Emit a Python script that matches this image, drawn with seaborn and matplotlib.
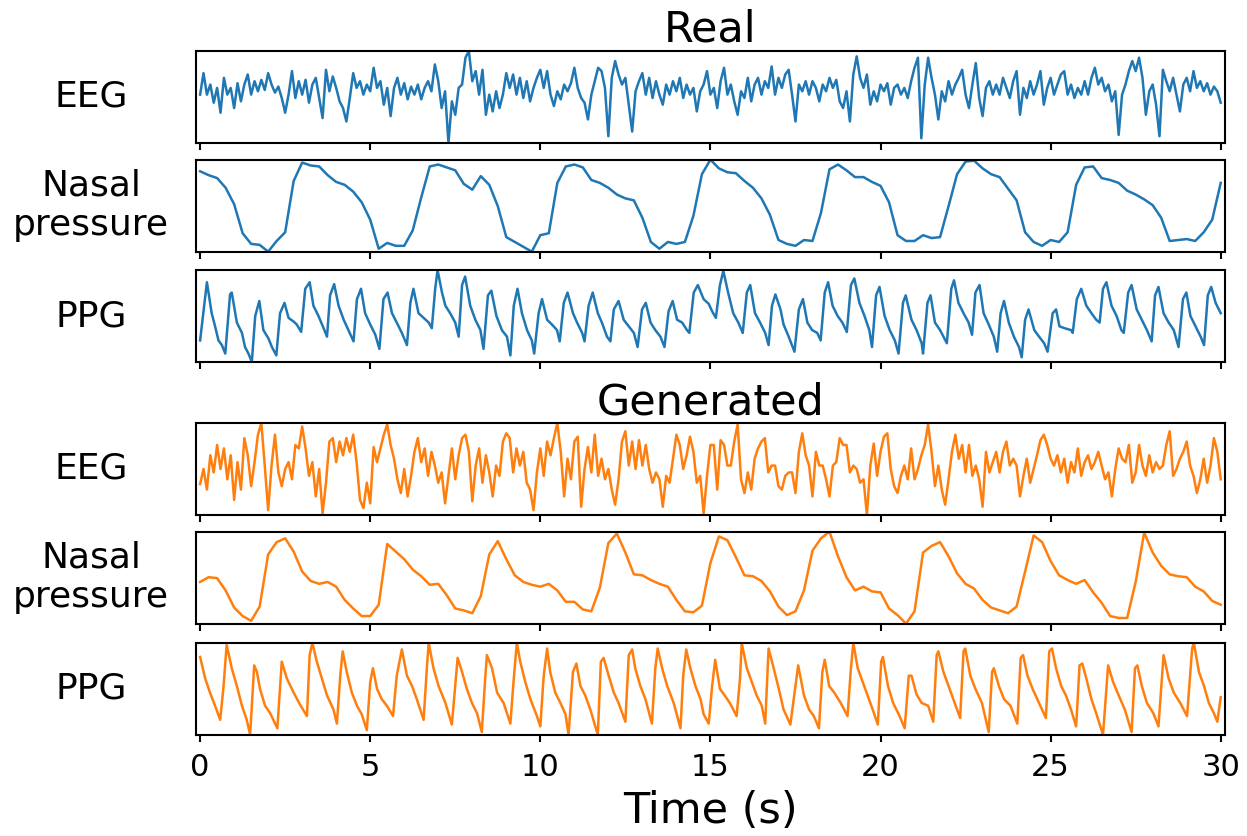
import numpy as np
import seaborn as sns
import matplotlib
matplotlib.use('Agg')
import matplotlib.pyplot as plt

#######################################################
### DATA (arbitrary units)
#######################################################
# EEG, sampled every 0.1 s from 0 to 30 s
eeg_time = np.linspace(0, 30, 301)
eeg_real = [
    -5, 27, -5, 10, -17, 5, -32, 20, -5, 5,
    -25, 12, -15, 10, 25, -5, 15, 0, 17, 2,
    27, 10, -2, 7, -10, -32, -5, 30, -10, 15,
    -5, 17, -17, 10, 20, -10, -40, 32, 0, 22,
    5, -15, -25, -45, -10, 27, 5, 15, -5, 10,
    0, 35, 5, 15, -20, 5, -37, 5, 20, -5,
    12, -12, 7, -5, 10, -12, 5, 15, 0, 40,
    15, -25, 0, -77, -15, -35, 5, 10, 50, 60,
    15, 30, -5, 32, -35, -5, -30, 0, -25, -5,
    27, 5, 25, -5, 20, -10, 15, -15, 5, 20,
    32, 5, 30, -5, -22, 0, -12, 10, 0, 12,
    35, 5, -10, -17, -42, -5, 15, 35, 30, 5,
    -67, 20, 45, 25, 10, 20, -20, -60, 0, 15,
    27, -5, 20, -10, 15, -5, -20, 10, -5, 15,
    0, 20, -10, 10, -5, 5, -30, 0, 10, 30,
    -5,
    5, -25, 15, 35, -5, 10, -15, -35, 0, -10,
    20, -15, 10, 20, -5, 15, 5, 37, -5, 20,
    5, 25, 32, -5, -45, 10, 0, 15, -5, 15,
    5, -15, 10, 0, 20, 5, 17, -15, -25, 0,
    -45, 25, 52, 20, 5, 25, -20, 0, -15, 10,
    0, 12, -20, 5, 10, -5, 5, -10, 15, 35,
    50, -70, 10, 50, 20, -5, -42, 0, -15, 15,
    -5, 10, 20, 32, -5, -25, 10, 42, -10, -37,
    5, 15, -5, 10, -5, 20, 5, -10, 15, 30,
    -35, 5, -10, 15, -5, 10, 30, -20, 5, 20,
    -5, 10, 25, 30, -5, 10, -10, 5, -5, 15,
    -5, 20, 35, 10, 20, 0, 10, -15, 0, -65,
    -5, 10, 30, 45, 30, 50, 20, -35, 0, 10,
    -20, -67, 32, 15, 0, 20, -5, -30, 10, 20,
    0, 30, 5, 15, 0, 12, -5, 7, 0, -17,
]
eeg_gen = [
    -27, -5, -35, 15, -10, 30, -5, 25, -20, 15,
    -50, 5, -35, 40, 15, -30, 5, 45, 62, 0,
    -65, 0, 45, -10, -30, -5, 5, -20, 30, 25,
    57, 25, -15, 5, -45, -5, -70, -25, 35, 40,
    5, 35, 15, 40, 20, 45, 5, -50, -62, -25,
    -55, 27, 5, 25, 45, 60, 30, 10, -20, -40,
    -5, -45, -15, 20, 40, 5, 25, -15, 20, 0,
    -25, -10, -55, -15, 25, -20, 15, 40, 45, 20,
    -52, 0, 25, -25, 15, -10, -45, 0, -15, 35,
    47, 40, -10, 25, 0, 20, -25, -35, -65, -10,
    25, -15, 35, 15, 40, 62, 20, -45, 10, -20,
    35, 42, -60, -5, 27, -10, 45, -15, 10, -20,
    -5, -35, -57, -20, 35, 50, 0, 35, -5, 37,
    0, 30, -5, -25, -10, -20, -60, -15, -25, 10,
    45, 30, -5, 15, 42, 20, -25, -15, -70, -15,
    30,
    30, -35, 37, 30, 0, 0, 35, 60, -20, -40,
    -10, -35, 10, 25, 35, 40, -10, 0, 0, -30,
    -35, -15, -10, -10, -40, 20, 47, 15, 0, -45,
    20, 0, 0, -20, -45, 0, 5, 40, 30, 30,
    -10, 0, -5, -25, -20, -72, 0, 32, -15, 20,
    42, 47, -5, -30, -40, -15, 0, -20, 25, -20,
    -5, 15, 30, 60, 20, -30, 0, -35, -57, -20,
    20, 45, 10, 30, -10, 30, -15, 0, -20, -60,
    20, -10, 5, 20, -10, 20, 35, 0, 10, 0,
    -45, -15, 10, -25, -5, 15, 37, 45, 30, 10,
    0, 15, -10, 10, -25, 5, -10, 25, -15, 5,
    15, -5, 5, 20, 0, -20, -10, -45, -5, 25,
    10, 5, 30, -25, -10, 30, 0, -15, 15, -10,
    5, -5, 0, 30, 50, -15, -5, 10, 20, 35,
    0, -15, -40, -20, 10, -25, 0, 40, 20, -20,
]

# Nasal pressure, sampled every 0.25 s
nasal_time = np.linspace(0, 30, 121)
nasal_real = [
    85, 81, 78, 68, 51, 21, 10, 9, 2, 13,
    22, 75, 94, 91, 90, 81, 74, 71, 64, 53,
    35, 5, 11, 8, 8, 24, 58, 90, 92, 89,
    86, 72, 66, 80, 71, 49, 17, 12, 7, 2,
    19, 21, 73, 90, 92, 89, 76, 73, 68, 61,
    57, 55, 37, 12, 5, 12, 10, 12, 39, 82,
    97,
    88, 84, 83, 75, 68, 57, 40, 14, 10, 8,
    14, 13, 42, 87, 92, 86, 79, 79, 74, 70,
    53, 19, 13, 13, 19, 16, 17, 49, 82, 95,
    96, 88, 82, 79, 67, 55, 22, 12, 8, 14,
    12, 22, 71, 89, 90, 78, 76, 73, 65, 61,
    56, 50, 37, 13, 14, 15, 13, 22, 35, 73,
]
nasal_gen = [
    45, 50, 49, 36, 18, 9, 4, 19, 74, 87,
    91, 77, 56, 46, 43, 45, 40, 26, 17, 9,
    9, 21, 85, 77, 69, 58, 51, 42, 43, 31,
    17, 15, 12, 30, 74, 88, 69, 52, 45, 42,
    40, 43, 36, 24, 24, 16, 14, 39, 86, 96,
    76, 53, 52, 47, 43, 40, 26, 14, 13, 20,
    65,
    93, 89, 71, 52, 51, 46, 35, 19, 10, 14,
    36, 78, 91, 98, 72, 50, 36, 40, 35, 34,
    17, 10, 1, 14, 76, 83, 87, 72, 54, 43,
    38, 26, 18, 15, 12, 19, 56, 94, 87, 67,
    52, 47, 43, 47, 34, 23, 9, 7, 7, 45,
    97, 76, 62, 53, 51, 50, 40, 35, 25, 21,
]

# PPG, key points of each beat (foot, upstroke, peak, descent)
ppg_real_time = [
    0.00, 0.20, 0.34, 0.44, 0.54, 0.64,
    0.74, 0.88, 0.93, 1.08, 1.23, 1.32, 1.42,
    1.52, 1.62, 1.74, 1.86, 2.01, 2.11,
    2.24, 2.35, 2.48, 2.60, 2.75, 2.84,
    2.97, 3.09, 3.22, 3.33, 3.48, 3.63,
    3.73, 3.82, 3.94, 4.07, 4.22, 4.36,
    4.51, 4.61, 4.73, 4.85, 5.00, 5.15,
    5.27, 5.39, 5.51, 5.64, 5.78, 5.93,
    6.08, 6.18, 6.27, 6.42, 6.57, 6.72,
    6.81, 6.91, 6.98, 7.11, 7.21, 7.35, 7.50,
    7.60, 7.70, 7.79, 7.94, 8.09, 8.24,
    8.33, 8.46, 8.56, 8.71, 8.87, 9.02,
    9.12, 9.22, 9.33, 9.46, 9.61, 9.75,
    9.82, 9.95, 10.05, 10.20, 10.34, 10.49,
    10.57, 10.69, 10.80, 10.96, 11.08, 11.23,
    11.30, 11.42, 11.54, 11.69, 11.81, 11.96,
    12.06, 12.16, 12.30, 12.45, 12.60, 12.75,
    12.86, 12.99, 13.10, 13.24, 13.38, 13.53,
    13.65, 13.77, 13.89, 14.02, 14.17, 14.31,
    14.38, 14.51, 14.63, 14.80, 14.95, 15.05,
    15.16, 15.28, 15.38, 15.52, 15.67, 15.82,
    15.95, 16.07, 16.17, 16.31, 16.46, 16.61,
    16.71, 16.81, 16.91, 17.06, 17.15, 17.30,
    17.47, 17.60, 17.72, 17.85, 17.99, 18.14,
    18.24, 18.36, 18.46, 18.59, 18.74, 18.88,
    19.01, 19.13, 19.23, 19.38, 19.53, 19.67,
    19.75, 19.87, 19.97, 20.12, 20.27, 20.42,
    20.53, 20.66, 20.74, 20.91, 21.06, 21.21,
    21.25, 21.38, 21.47, 21.60, 21.75, 21.85,
    21.95, 22.08, 22.16, 22.29, 22.44, 22.59,
    22.69, 22.79, 22.91, 23.03, 23.18, 23.33,
    23.43, 23.53, 23.63, 23.77, 23.92, 24.07,
    24.15, 24.25, 24.35, 24.52, 24.66, 24.81,
    24.91, 25.06, 25.16, 25.26, 25.41, 25.60,
    25.65, 25.77, 25.90, 26.05, 26.20, 26.34,
    26.44, 26.54, 26.64, 26.79, 26.94, 27.08,
    27.15, 27.28, 27.38, 27.53, 27.68, 27.83,
    27.97, 28.07, 28.17, 28.32, 28.47, 28.62,
    28.76, 28.89, 28.99, 29.11, 29.26, 29.41,
    29.51, 29.62, 29.72, 29.85, 30.00,
]
ppg_real = [
    24, 86, 53, 39, 24, 19,
    10, 73, 75, 43, 32, 17, 10,
    1, 50, 66, 35, 26, 17,
    8, 53, 64, 48, 44, 41,
    33, 79, 86, 61, 50, 37,
    28, 72, 84, 61, 46, 35,
    23, 68, 79, 53, 41, 30,
    15, 68, 75, 53, 43, 32,
    19, 64, 79, 53, 48, 43,
    37, 79, 99, 75, 61, 53, 43,
    28, 83, 92, 61, 46, 35,
    15, 72, 77, 50, 35, 28,
    8, 61, 79, 53, 35, 24,
    10, 53, 68, 46, 41, 35,
    23, 64, 75, 53, 43, 32,
    23, 61, 75, 53, 43, 28,
    23, 57, 66, 46, 39, 32,
    17, 57, 64, 43, 35, 28,
    17, 55, 66, 46, 43, 35,
    32, 75, 83, 68, 63, 55,
    48, 83, 98, 75, 53, 43,
    32, 75, 83, 53, 43, 32,
    19, 61, 73, 57, 41, 28,
    12, 57, 68, 43, 35, 32,
    24, 75, 86, 61, 50, 43,
    33, 83, 90, 64, 50, 35,
    17, 72, 81, 50, 35, 24,
    10, 64, 72, 46, 35, 21,
    10, 64, 72, 43, 35, 28,
    21, 79, 88, 64, 53, 43,
    30, 75, 83, 53, 41, 28,
    12, 53, 66, 43, 28, 17,
    6, 46, 57, 35, 28, 21,
    12, 53, 57, 39, 37, 35,
    32, 68, 79, 61, 53, 46,
    43, 79, 86, 61, 50, 35,
    32, 75, 83, 57, 46, 35,
    23, 72, 81, 53, 43, 35,
    17, 68, 75, 50, 39, 28,
    19, 72, 81, 64, 53,
]
ppg_gen_time = [
    0.00, 0.15, 0.29, 0.44,
    0.59, 0.69, 0.78, 0.93, 1.08, 1.23, 1.37,
    1.47, 1.59, 1.67, 1.76, 1.91, 2.06,
    2.27, 2.40, 2.55, 2.75, 2.94,
    3.14, 3.22, 3.30, 3.43, 3.58, 3.73, 3.92,
    4.02, 4.12, 4.19, 4.31, 4.46, 4.61, 4.75,
    4.90, 5.00, 5.08, 5.20, 5.34, 5.49,
    5.67, 5.78, 5.93, 6.08, 6.23, 6.37,
    6.57, 6.67, 6.72, 6.86, 7.01, 7.21,
    7.40, 7.50, 7.57, 7.70, 7.84, 7.99, 8.14,
    8.28, 8.38, 8.43, 8.58, 8.73, 8.92,
    9.12, 9.22, 9.31, 9.41, 9.56, 9.71, 9.90,
    10.00, 10.10, 10.20, 10.29, 10.44, 10.59, 10.74,
    10.83, 10.96, 11.06, 11.18, 11.32, 11.47,
    11.69, 11.78, 11.86, 12.01, 12.16, 12.30,
    12.50, 12.60, 12.70, 12.79, 12.94, 13.09,
    13.28, 13.38, 13.45, 13.58, 13.73, 13.92,
    14.12, 14.20, 14.29, 14.41, 14.56, 14.71, 14.80,
    14.95, 15.05, 15.14, 15.28, 15.42, 15.57,
    15.77, 15.87, 15.92, 16.07, 16.22, 16.36, 16.51,
    16.61, 16.71, 16.86, 17.01, 17.15,
    17.35, 17.50, 17.58, 17.75, 17.90, 18.04,
    18.19, 18.29, 18.36, 18.49, 18.64, 18.83,
    19.03, 19.13, 19.20, 19.33, 19.48, 19.62, 19.77,
    19.92, 20.02, 20.07, 20.22, 20.37, 20.56,
    20.71, 20.83, 20.91, 21.06, 21.21, 21.40,
    21.55, 21.65, 21.70, 21.85, 22.00, 22.14,
    22.34, 22.44, 22.49, 22.64, 22.79, 22.98,
    23.18, 23.28, 23.33, 23.48, 23.63, 23.82,
    24.02, 24.12, 24.19, 24.32, 24.47, 24.66,
    24.86, 24.96, 25.04, 25.16, 25.31, 25.45, 25.60,
    25.75, 25.85, 25.93, 26.05, 26.20, 26.34,
    26.54, 26.69, 26.84, 26.99, 27.18,
    27.38, 27.48, 27.55, 27.68, 27.83, 28.02,
    28.17, 28.32, 28.47, 28.62, 28.81,
    29.01, 29.16, 29.21, 29.36, 29.51, 29.65, 29.80, 29.90, 30.00,
]
ppg_gen = [
    84, 61, 46, 32,
    17, 53, 97, 72, 53, 32, 17,
    1, 75, 68, 50, 32, 24,
    8, 79, 61, 46, 33,
    21, 86, 99, 79, 61, 43, 28,
    13, 64, 90, 68, 46, 32, 23,
    6, 57, 72, 50, 39, 32,
    21, 64, 92, 64, 53, 39,
    17, 75, 99, 72, 53, 35,
    12, 53, 83, 68, 50, 35, 24,
    4, 61, 86, 72, 46, 35,
    13, 61, 99, 79, 57, 39, 21,
    10, 64, 93, 68, 46, 35, 23,
    1, 68, 77, 53, 43, 28,
    1, 79, 83, 64, 46, 35,
    15, 86, 92, 72, 53, 39,
    13, 72, 93, 72, 53, 35,
    8, 64, 92, 72, 53, 39, 23,
    13, 53, 81, 50, 43, 35,
    21, 61, 99, 72, 57, 43, 32,
    13, 93, 72, 50, 28,
    12, 53, 75, 43, 28, 21,
    8, 68, 81, 53, 46, 35,
    21, 72, 99, 72, 57, 43, 28,
    12, 79, 84, 53, 35, 21,
    8, 64, 64, 44, 35, 32,
    15, 86, 90, 68, 53, 39,
    19, 90, 93, 64, 50, 35,
    4, 68, 72, 53, 39, 32,
    13, 83, 86, 64, 50, 35,
    19, 90, 93, 72, 53, 43, 28,
    10, 75, 77, 61, 39, 24,
    1, 75, 57, 44, 28,
    4, 72, 75, 53, 35, 24,
    10, 86, 61, 46, 35,
    21, 93, 99, 68, 53, 35, 24, 15, 41,
]

channels = ['EEG', 'Nasal\npressure', 'PPG']
blue, orange = '#1f77b4', '#ff7f0e'

#######################################################
### FIGURE
#######################################################
plt.rcParams['font.family'] = 'DejaVu Sans'
fig = plt.figure(figsize=(12.47, 8.36), dpi=100)

left, width = 0.1572, 0.825
bottoms = [0.829, 0.699, 0.567, 0.384, 0.254, 0.121]
height = 0.110

signals = [
    (eeg_time, eeg_real, blue), (nasal_time, nasal_real, blue), (ppg_real_time, ppg_real, blue),
    (eeg_time, eeg_gen, orange), (nasal_time, nasal_gen, orange), (ppg_gen_time, ppg_gen, orange),
]

axes = []
for i, (t, y, c) in enumerate(signals):
    ax = fig.add_axes([left, bottoms[i], width, height])
    sns.lineplot(x=t, y=y, ax=ax, color=c, linewidth=1.8, estimator=None, sort=False)
    ax.set_xlim(-0.12, 30.12)
    ax.set_ylim(min(y), max(y))
    ax.set_yticks([])
    ax.set_xticks(range(0, 31, 5))
    ax.set_xticklabels([])
    ax.tick_params(axis='x', length=5, width=1.5, pad=8)
    for s in ax.spines.values():
        s.set_linewidth(1.5)
    ax.set_xlabel('')
    ax.set_ylabel(channels[i % 3], rotation=0, ha='center', va='center', fontsize=26)
    ax.yaxis.set_label_coords(-0.102, 0.5)
    axes.append(ax)

axes[0].set_title('Real', fontsize=31, pad=5)
axes[3].set_title('Generated', fontsize=31, pad=5)
axes[5].set_xticklabels([str(v) for v in range(0, 31, 5)], fontsize=22)
axes[5].set_xlabel('Time (s)', fontsize=31, labelpad=6)

fig.savefig('out.png', dpi=100)
